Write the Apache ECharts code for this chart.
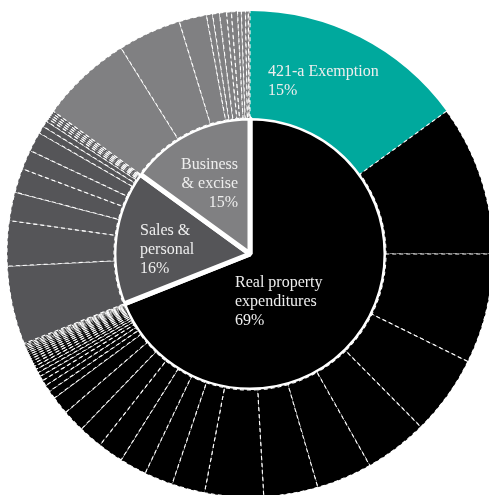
<!DOCTYPE html>
<html>
<head>
<meta charset="utf-8">
<script src="https://cdn.jsdelivr.net/npm/echarts@6/dist/echarts.min.js"></script>
<style>
  html, body { margin: 0; padding: 0; background: #ffffff; }
  #chart { width: 489px; height: 495px; }
</style>
</head>
<body>
<div id="chart"></div>
<script>
// Tax expenditure groups (inner ring), shares of the total in percent
const groupNames = ['Real property expenditures', 'Sales & personal', 'Business & excise'];
const groupLabelLines = [['Real property', 'expenditures'], ['Sales &', 'personal'], ['Business', '& excise']];
const groupShares = [69, 16, 15];

// Highlighted program inside the real property group
const exemptionName = '421-a Exemption';
const exemptionShare = 15;

// Individual expenditures in each group (outer ring), percent of total, in drawing order
const realPropertyItems = [10.0, 7.3, 5.3, 4.2, 3.7, 3.6, 3.9, 2.2, 1.9, 1.8, 1.7, 1.6, 1.5, 1.2,
  0.55, 0.45, 0.38, 0.32, 0.28, 0.25, 0.22, 0.2, 0.18, 0.17, 0.16, 0.15, 0.14, 0.13, 0.12, 0.11, 0.1, 0.1, 0.09];
const salesPersonalItems = [5.2, 3.0, 1.9, 1.6, 1.3, 1.3, 0.5, 0.4, 0.2, 0.15, 0.15, 0.15, 0.15];
const businessExciseItems = [6.1, 4.2, 1.83, 0.40, 0.46, 0.47, 0.32, 0.40, 0.25, 0.27, 0.19, 0.11];

// Styling
const GROUP_COLORS = ['#000000', '#555558', '#808082'];
const HIGHLIGHT_COLOR = '#00a99d';
const LABEL_COLOR = '#eeeeee';
const LABEL_FONT = '16px "Liberation Serif", "DejaVu Serif", serif';

const groupItems = [realPropertyItems, salesPersonalItems, businessExciseItems];

const sunburstData = groupNames.map((name, i) => {
  const children = groupItems[i].map((v, j) => ({
    name: name + ' item ' + (j + 1),
    value: v,
    itemStyle: { color: GROUP_COLORS[i] }
  }));
  if (i === 0) {
    children.unshift({
      name: exemptionName,
      value: exemptionShare,
      itemStyle: { color: HIGHLIGHT_COLOR, borderWidth: 0 }
    });
  }
  return { name, value: groupShares[i], itemStyle: { color: GROUP_COLORS[i] }, children };
});

// Text blocks placed inside the wedges
function labelText(lines, share) {
  return lines.concat([share + '%']).join('\n');
}
const labelSpecs = [
  { text: labelText(groupLabelLines[0], groupShares[0]), x: 235, y: 302, align: 'left' },
  { text: labelText(groupLabelLines[1], groupShares[1]), x: 140, y: 250, align: 'left' },
  { text: labelText(groupLabelLines[2], groupShares[2]), x: 238, y: 184, align: 'right' },
  { text: labelText([exemptionName], exemptionShare), x: 268, y: 81.5, align: 'left' }
];

const chart = echarts.init(document.getElementById('chart'), null, { renderer: 'canvas' });
chart.setOption({
  animation: false,
  backgroundColor: '#ffffff',
  series: [{
    type: 'sunburst',
    center: [250, 254],
    radius: [0, 243],
    sort: null,
    startAngle: 90,
    clockwise: true,
    nodeClick: false,
    emphasis: { disabled: true },
    label: { show: false },
    levels: [
      {},
      {
        r0: 0, r: 136,
        itemStyle: { borderColor: '#ffffff', borderWidth: 5, borderType: 'solid' },
        label: { show: false }
      },
      {
        r0: 136, r: 243,
        itemStyle: { borderColor: '#ffffff', borderWidth: 1.1, borderType: [4, 3] },
        label: { show: false }
      }
    ],
    data: sunburstData
  }],
  graphic: labelSpecs.map(s => ({
    type: 'text',
    x: s.x,
    y: s.y,
    z: 100,
    silent: true,
    style: {
      text: s.text,
      fill: LABEL_COLOR,
      font: LABEL_FONT,
      lineHeight: 19,
      align: s.align,
      verticalAlign: 'middle'
    }
  }))
});
</script>
</body>
</html>
